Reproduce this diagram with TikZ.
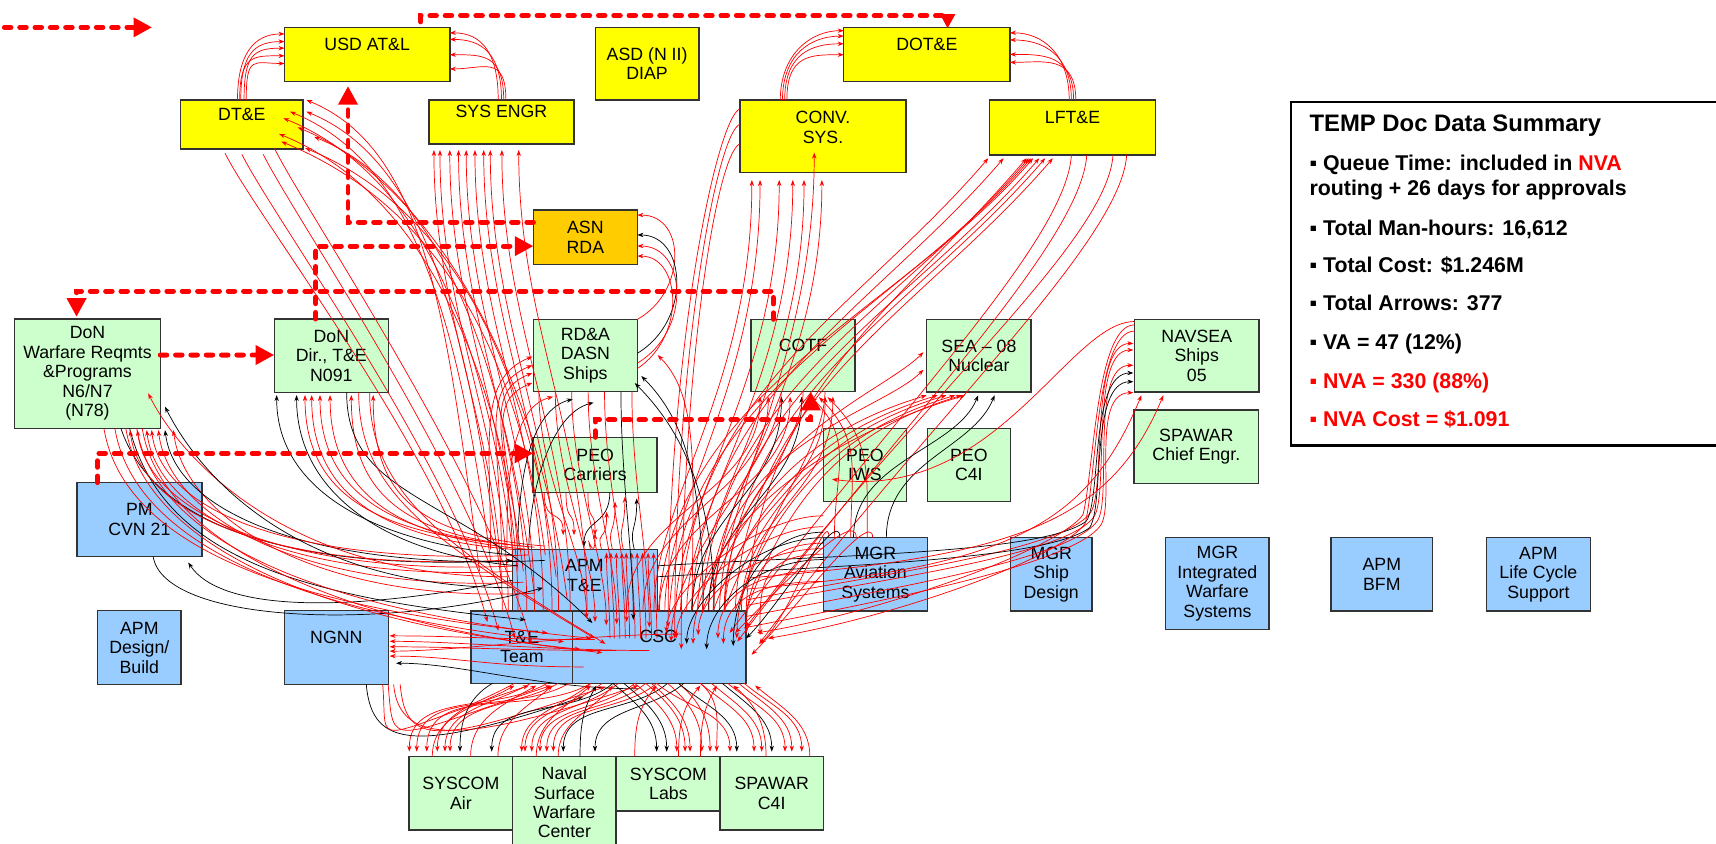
\documentclass[tikz,border=0pt]{standalone}
\usepackage{fontspec}
\setmainfont{Liberation Sans}
\usetikzlibrary{arrows.meta,calc}
\definecolor{yel}{HTML}{FFFF00}
\definecolor{org}{HTML}{FFCC00}
\definecolor{grn}{HTML}{CCFFCC}
\definecolor{blu}{HTML}{99CCFF}
\tikzset{
 box/.style={draw=black!80, line width=1.3pt, inner sep=0pt, outer sep=0pt, align=center, font=\fontsize{16.2}{17.8}\selectfont},
 lbl/.style={inner sep=0pt, align=center, font=\fontsize{16.2}{18.2}\selectfont},
 ra/.style={draw=red, line width=0.65pt, -{Stealth[length=5.5pt,width=4pt]}},
 ba/.style={draw=black, line width=0.65pt, -{Stealth[length=5.5pt,width=4pt]}},
 bigdash/.style={draw=red, line width=4.5pt, dash pattern=on 6pt off 8pt, line cap=round},
 bigtip/.style={-{Triangle[length=17pt,width=17pt]}},
 smalltip/.style={-{Triangle[length=13pt,width=13pt]}},
 sumt/.style={inner sep=0pt, anchor=base west, font=\bfseries\fontsize{19.5}{22}\selectfont},
}
\newcommand\mkbox[7]{\node[box,fill=#6,minimum width={(#4)-(#2)},minimum height={(#5)-(#3)}] (#1) at ({((#2)+(#4))/2},{((#3)+(#5))/2}) {#7};}
\begin{document}
\begin{tikzpicture}[x=1pt,y=-1pt]
\useasboundingbox (0,0) rectangle (1568,771);
% ---------- boxes ----------
\mkbox{usd}{260}{25}{411}{74.6}{yel}{}
\mkbox{asd}{544}{25}{638.6}{91.4}{yel}{ASD (N II)\\DIAP}
\mkbox{dote}{771}{25}{922.8}{74.6}{yel}{}
\mkbox{dte}{165}{91.4}{277}{136}{yel}{}
\mkbox{syse}{392}{91.4}{524.5}{131.6}{yel}{}
\mkbox{conv}{676}{91.4}{828}{157.8}{yel}{}
\mkbox{lfte}{904}{91.4}{1056}{141.6}{yel}{}
\mkbox{asn}{487.4}{191.9}{582.4}{241.9}{org}{ASN\\RDA}
\mkbox{dwr}{13.5}{291.5}{146.4}{391.4}{grn}{DoN\\Warfare Reqmts\\\&Programs\\N6/N7\\(N78)}
\mkbox{ddir}{250.6}{291.5}{354.9}{358.5}{grn}{DoN\\Dir., T\&E\\N091}
\mkbox{rda}{487.4}{291.8}{582.4}{357.9}{grn}{RD\&A\\DASN\\Ships}
\mkbox{cotf}{686.3}{291.8}{781.3}{357.9}{grn}{}
\mkbox{sea}{846.8}{291.8}{942.2}{358.2}{grn}{SEA – 08\\Nuclear}
\mkbox{navsea}{1036.6}{291.8}{1150.5}{358.2}{grn}{NAVSEA\\Ships\\05}
\mkbox{peoc}{487.2}{399.6}{600.5}{449.9}{grn}{PEO\\Carriers}
\mkbox{peoiws}{752.4}{391.4}{828.2}{458.4}{grn}{PEO\\IWS}
\mkbox{peocfi}{847.4}{391.4}{923.2}{458.4}{grn}{PEO\\C4I}
\mkbox{spce}{1036.3}{374.7}{1150}{441.7}{grn}{SPAWAR\\Chief Engr.}
\mkbox{pmcvn}{70.2}{441}{184.5}{508.7}{blu}{PM\\CVN 21}
\mkbox{apmdb}{89.2}{558}{165.4}{625.4}{blu}{APM\\Design/\\Build}
\mkbox{ngnn}{259.7}{558}{354.9}{625.4}{blu}{}
\mkbox{apmte}{468.2}{502}{601}{558.3}{blu}{}
\mkbox{teteam}{430.4}{558.3}{523.3}{624.4}{blu}{T\&E\\Team}
\mkbox{csc}{523.3}{558.3}{681.7}{624.4}{blu}{}
\mkbox{mgrav}{752.4}{491.3}{847.4}{558.4}{blu}{MGR\\Aviation\\Systems}
\mkbox{mgrsd}{923.2}{491.3}{997.9}{558.4}{blu}{MGR\\Ship\\Design}
\mkbox{mgriws}{1065.2}{491.3}{1159.6}{575.1}{blu}{MGR\\Integrated\\Warfare\\Systems}
\mkbox{apmbfm}{1216.3}{491.3}{1309}{558.4}{blu}{APM\\BFM}
\mkbox{apmlcs}{1358.2}{491.3}{1453.2}{558.4}{blu}{APM\\Life Cycle\\Support}
\mkbox{sysair}{373.7}{691.4}{468.5}{758.5}{grn}{SYSCOM\\Air}
\mkbox{nswc}{468.5}{691.4}{562.9}{775}{grn}{Naval\\Surface\\Warfare\\Center}
\mkbox{syslabs}{563.5}{691.4}{658}{741}{grn}{SYSCOM\\Labs}
\mkbox{spcfi}{658}{691.4}{752.3}{758.5}{grn}{SPAWAR\\C4I}
% top-aligned labels
\node[lbl] (usdl) at (335.5,40.5) {USD AT\&L};
\node[lbl] (dtel) at (221,104.5) {DT\&E};
\node[lbl] (sysel) at (458.2,102) {SYS ENGR};
\node[lbl] (dotel) at (846.9,40.5) {DOT\&E};
\node[lbl] (convl) at (752,116.3) {CONV.\\SYS.};
\node[lbl] (lftel) at (980,107.4) {LFT\&E};
\node[lbl] (cotfl) at (733.8,315.3) {COTF};
\node[lbl] (ngnnl) at (307.3,582.5) {NGNN};
\node[lbl] (apmtel) at (534,526.2) {APM\\T\&E};
\node[lbl] (cscl) at (601.5,581.3) {CSC};
% ---------- thin arrows ----------
% DT&E -> USD
\foreach \ax/\ay in {-4/6,-1/13,2/19,-2/26,4/33}
 \draw[ra] ($(dte.north)+(\ax,0)$) .. controls +(0,-42) and +(-28,0) .. ($(usd.north west)+(0,\ay)$);
% SYS ENGR -> USD
\foreach \ax/\ay in {-3/5,0/11,2/25,4/38}
 \draw[ra] ($(syse.north)+(\ax,0)$) .. controls +(0,-42) and +(30,0) .. ($(usd.north east)+(0,\ay)$);
% CONV -> DOT&E
\foreach \ax/\ay in {-39/3,-37/8,-35/15,-33/25}
 \draw[ra] ($(conv.north)+(\ax,0)$) .. controls +(0,-42) and +(-30,0) .. ($(dote.north west)+(0,\ay)$);
% LFT&E -> DOT&E
\foreach \ax/\ay in {-3/5,-1/11.5,1/24.7,3/32}
 \draw[ra] ($(lfte.north)+(\ax,0)$) .. controls +(0,-42) and +(30,0) .. ($(dote.north east)+(0,\ay)$);
% into DT&E right
\foreach \ax/\ay/\bx/\by in {-30/20/3/0, -20/10/-12/10.6, -10/30/3/10.6, 0/0/-18/16.6, 10/20/-22/31, 20/40/10/33.6, 30/5/-20/38, 40/25/2/44, 50/45/-5/25}
 \draw[ra] ($(apmte.north west)+(\ax,\ay)$) .. controls +(-30,-230) and +(110,45) .. ($(dte.north east)+(\bx,\by)$);
% DT&E bottom -> T&E team
\foreach \ax/\ay/\bx/\by in {-15.4/4/15/10, 0/5/25/18, 19.5/5/40/25, 30/0/55/30}
 \draw[ra] ($(dte.south)+(\ax,\ay)$) .. controls +(30,60) and +(-40,-150) .. ($(teteam.north west)+(\bx,\by)$);
% into SYS ENGR bottom
\foreach \bx in {4.5,10,19,27,34,42,50,56,66.6,82}
 \draw[ra] ($(teteam.north west)+(\bx+24,0)$) .. controls +(0,-160) and +(0,160) .. ($(syse.south west)+(\bx,5.5)$);
% into CONV bottom
\foreach \ax/\bx/\by in {-5/11/6.7, 5/18.5/6.7, 15/36/6.7, 25/48.4/6.7, 35/58.7/6.7, 45/75/6.7, 55/68/-18.3}
 \draw[ra] ($(csc.north)+(\ax,0)$) .. controls +(0,-100) and +(0,190) .. ($(conv.south west)+(\bx,\by)$);
\foreach \ay/\bx/\by in {8/8/15, 22/14/25, 40/20/35}
 \draw[ra] ($(conv.north west)+(0,\ay)$) .. controls +(-22,10) and +(0,-250) .. ($(csc.north)+(\bx,\by)$);
% into LFT&E bottom
\foreach \ax/\bx in {-60/-1,-50/13,-40/36,-30/45.6,-20/51,-10/58,0/34,-70/38,-80/40}
 \draw[ra] ($(csc.north east)+(\ax,0)$) .. controls +(10,-200) and +(-120,140) .. ($(lfte.south west)+(\bx,3)$);
\foreach \ax/\bx/\by in {75/-15/20, 89/-8/28, 113/0/15, 125.5/12/30}
 \draw[ra] ($(lfte.south west)+(\ax,0)$) .. controls +(-5,80) and +(150,-200) .. ($(csc.north east)+(\bx,\by)$);
% ASN RDA right
\draw[ra] (rda.north east) .. controls +(45,-25) and +(45,0) .. ($(asn.north east)+(0,4.6)$);
\draw[ba] ($(rda.north east)+(0,31)$) .. controls +(50,-30) and +(45,0) .. ($(asn.north east)+(0,22.8)$);
\draw[ra] ($(rda.north east)+(0,40)$) .. controls +(50,-30) and +(45,0) .. ($(asn.north east)+(0,32.9)$);
\draw[ra] ($(rda.north east)+(0,45)$) .. controls +(45,-30) and +(40,0) .. ($(asn.north east)+(0,42.1)$);
% RD&A left / below / right
\foreach \ax/\ay/\by in {-20/0/34, -10/5/42, 0/10/49, 5/20/58}
 \draw[ra] ($(apmte.north west)+(\ax,\ay)$) .. controls +(0,-100) and +(-50,20) .. ($(rda.north west)+(-1,\by)$);
\draw[ra] ($(apmte.north west)+(-5,0)$) .. controls +(0,-60) and +(-40,10) .. ($(rda.south west)+(18,4.6)$);
\draw[ba] ($(apmte.north west)+(5,0)$) .. controls +(0,-60) and +(-40,10) .. ($(rda.south west)+(36,6.8)$);
\draw[ba] ($(apmte.north west)+(15,0)$) .. controls +(0,-50) and +(-40,10) .. ($(rda.south west)+(55,10)$);
\draw[ra] ($(csc.north)+(30,0)$) .. controls +(0,-120) and +(40,40) .. ($(rda.north east)+(18.6,32.7)$);
\draw[ba] ($(csc.north)+(40,0)$) .. controls +(0,-120) and +(40,40) .. ($(rda.north east)+(3.6,51.8)$);
\draw[ba] ($(csc.north)+(50,0)$) .. controls +(0,-110) and +(40,40) .. ($(rda.north east)+(-2.4,58.2)$);
% COTF bottom
\foreach \ax/\bx/\cl in {-30/8.2/ra, -15/15.7/ra, 30/27.7/ba, 0/35.7/ra, 45/46.2/ba, 60/67.7/ra, 75/74.7/ra}
 \draw[\cl] ($(csc.north)+(\ax,0)$) .. controls +(0,-90) and +(0,90) .. ($(cotf.south west)+(\bx,4.6)$);
\foreach \ax/\bx in {10/55, 25/62, 40/70}
 \draw[ra] ($(mgrav.north west)+(\ax,0)$) .. controls +(0,-60) and +(40,40) .. ($(cotf.south west)+(\bx,5)$);
% SEA-08
\foreach \ax/\bx in {-40/0,-30/10,-20/18,-10/26,0/32,-50/35}
 \draw[ra] ($(csc.north east)+(\ax,0)$) .. controls +(40,-110) and +(-100,30) .. ($(sea.south west)+(\bx,3)$);
\draw[ba] ($(mgrav.north)+(-20,0)$) .. controls +(0,-70) and +(-20,50) .. ($(sea.south west)+(47,3)$);
\draw[ba] ($(mgrav.north)+(10,0)$) .. controls +(0,-70) and +(-20,50) .. ($(sea.south west)+(62,3)$);
\draw[ra] ($(csc.north east)+(-30,0)$) .. controls +(0,-150) and +(-40,40) .. ($(sea.north west)+(-3,46)$);
\draw[ra] ($(csc.north east)+(-20,0)$) .. controls +(0,-150) and +(-40,40) .. ($(sea.north west)+(-3,30)$);
% NAVSEA: out to the right, up along x ~ 1000, into the left side
\foreach \ay/\by/\mx/\my in {-10/22/-40/110, -5/28/-37/114, 5/42/-34/118, 15/67/-31/122}
 \draw[ra] ($(csc.north east)+(0,\ay)$) .. controls +(130,-25) and +(-25,35) .. ($(navsea.south west)+(\mx,\my)$) .. controls +(14,-20) and +(-40,0) .. ($(navsea.north west)+(-1,\by)$);
\foreach \ay/\by/\mx/\my in {15/49/-44/118, 25/57/-41/124}
 \draw[ba] ($(apmte.north east)+(0,\ay)$) .. controls +(160,-10) and +(-40,30) .. ($(navsea.south west)+(\mx,\my)$) .. controls +(14,-20) and +(-40,0) .. ($(navsea.north west)+(-1,\by)$);
\foreach \ay/\bx/\by/\mx/\my in {5/10/20/-47/112, 10.7/20/25/-45/120}
 \draw[ra] ($(navsea.north west)+(0,\ay)$) .. controls +(-35,0) and +(10,-40) .. ($(navsea.south west)+(\mx,\my)$) .. controls +(-20,30) and +(120,-20) .. ($(csc.north east)+(\bx,\by)$);
\foreach \ay/\bx in {-20/6.4, -30/26.4}
 \draw[ra] ($(csc.north east)+(0,\ay)$) .. controls +(240,-20) and +(-50,120) .. ($(navsea.south west)+(\bx,3)$);
\draw[ra] ($(navsea.north west)+(0,2)$) .. controls +(-60,0) and +(150,20) .. ($(peoiws.center)+(-30,13)$);
% NGNN right
\foreach \ax/\ay/\bx/\by/\cl in {20/-40/1.1/23/ra, 40/-30/1.1/33/ra, 10/-15/1.1/41.5/ra, 60/5/7/48/ba, 70/-30/1.1/28/ra, 100/-45/1.1/37/ra}
 \draw[\cl] ($(teteam.south east)+(\ax,\ay)$) .. controls +(-90,0) and +(60,0) .. ($(ngnn.north east)+(\bx,\by)$);
% NGNN bottom loops
\foreach \ax/\bx/\by/\cl in {75/9.7/12.2/ba, 90/-40/2/ra, 95/-20/2/ra, 106/30/3/ra, 100/60/2/ra}
 \draw[\cl] ($(ngnn.south west)+(\ax,0)$) .. controls +(5,60) and +(-150,50) .. ($(csc.south west)+(\bx,\by)$);
% PM CVN 21 and black long arcs
\draw[ba] (apmte.west) .. controls +(-150,30) and +(30,45) .. ($(pmcvn.south east)+(-12.5,5.3)$);
\draw[ba] ($(pmcvn.south)+(12.6,0)$) .. controls +(10,60) and +(-150,40) .. ($(apmte.west)+(28,7)$);
\draw[ba] ($(dwr.south west)+(97,0)$) .. controls +(30,90) and +(-200,10) .. ($(apmte.west)+(0,-18)$);
\draw[ba] ($(dwr.south west)+(105,0)$) .. controls +(30,120) and +(-200,-20) .. ($(teteam.north west)+(50,8)$);
% DoN Warfare bottom
\foreach \ax/\ay/\bx/\cl in {-10/10/105.3/ra, 0/20/120.5/ra, 10/30/131.2/ra, 20/40/144.9/ra, 30/10/137.3/ba, 5/15/112/ra, 15/5/125/ra}
 \draw[\cl] ($(apmte.north west)+(\ax,\ay)$) .. controls +(-200,10) and +(10,80) .. ($(dwr.south west)+(\bx,1.6)$);
\draw[ra] ($(apmte.north west)+(-5,25)$) .. controls +(-200,0) and +(30,60) .. ($(dwr.south east)+(-11,-32)$);
\draw[ba] ($(apmte.north west)+(0,35)$) .. controls +(-200,0) and +(30,60) .. ($(dwr.south east)+(4.4,-19.8)$);
\foreach \ax/\bx/\by in {15/70/20, 25/85/28, 35/100/35, 45/110/25, 50/120/38}
 \draw[ra] ($(dwr.south)+(\ax,0)$) .. controls +(20,120) and +(-200,-20) .. ($(teteam.north west)+(\bx,\by)$);
% DoN Dir bottom
\foreach \ax/\ay/\bx/\cl in {0/5/2.2/ba, 5/15/20.4/ba, -5/-5/28.1/ra, 0/0/34.2/ra, 10/-3/41.8/ra, 15/0/51/ra, 20/-2/70.4/ra, 30/-3/90.4/ra}
 \draw[\cl] ($(apmte.north west)+(\ax,\ay)$) .. controls +(-120,-10) and +(0,90) .. ($(ddir.south west)+(\bx,2.5)$);
\draw[ba] ($(ddir.south)+(14,0)$) .. controls +(0,100) and +(-120,-120) .. ($(teteam.north east)+(18,11)$);
\foreach \ax/\bx/\by in {25/20/25, 35/30/30}
 \draw[ra] ($(ddir.south)+(\ax,0)$) .. controls +(0,90) and +(-150,-90) .. ($(csc.north west)+(\bx,\by)$);
% PEO Carriers
\foreach \ax/\bx/\by/\cl in {5/56.5/37.5/ra, 15/67.1/17.7/ra, 25/74.8/8.5/ra, 35/83.8/4/ra, 45/94.6/5.5/ba}
 \draw[\cl] ($(apmte.north)+(\ax,0)$) .. controls +(-5,-20) and +(0,30) .. ($(peoc.south west)+(\bx,\by)$);
\foreach \ax/\bx/\by/\cl in {10/46.4/-13/ra, 30/56.3/-13/ra, 50/75.5/-13/ra, 70/65.4/-2.4/ba}
 \draw[\cl] ($(peoc.south west)+(\ax,0)$) .. controls +(0,30) and +(0,-25) .. ($(apmte.north west)+(\bx,\by)$);
% dense bundle into APM T&E top
\foreach \bx in {86,90,95,100,104,109,114,119,124,129}
 \draw[ra] ($(csc.north west)+(\bx-52,25)$) .. controls +(0,-30) and +(0,25) .. ($(apmte.north west)+(\bx,3)$);
% RD&A bottom -> CSC top
\foreach \ax/\bx/\by/\cl in {5/12.7/7/ra, 20/20.4/10/ra, 35/30.7/13/ra, 50/40.2/12/ra, 65/49.3/10/ra, 80/55.4/8/ba, 90/70/15/ra}
 \draw[\cl] ($(rda.south west)+(\ax,0)$) .. controls +(0,80) and +(0,-60) .. ($(csc.north west)+(\bx,\by)$);
% CSC top from the right
\foreach \ay/\bx/\by/\cl in {0/85.7/20/ra, 10/94.7/25/ra, 20/104.2/30/ba, 30/114.7/22/ra, 40/122.4/35/ba, 50/132.7/25/ra, 60/137.7/30/ra, 15/146.7/32/ba, 25/158.7/20/ra, 35/171.2/22/ra}
 \draw[\cl] ($(mgrav.north west)+(0,\ay-20)$) .. controls +(-60,0) and +(0,-40) .. ($(csc.north west)+(\bx,\by)$);
\foreach \ax/\bx/\by in {-20/90/28, 0/110/30, 20/150/25}
 \draw[ra] ($(cotf.south)+(\ax,0)$) .. controls +(0,60) and +(0,-80) .. ($(csc.north west)+(\bx,\by)$);
\foreach \ax/\bx/\by/\cl in {5/13/30/ra, 15/0/25/ba, 30/-10/20/ra, 45/5/40/ra}
 \draw[\cl] ($(mgrav.north west)+(\ax,0)$) .. controls +(0,-30) and +(30,-30) .. ($(csc.north east)+(\bx,\by)$);
% arches CSC -> SYSCOM boxes
\foreach \ax/\bx/\ang/\cl in {-23.3/0.3/-150/ra, -3.3/7.1/-150/ra, 16.7/16.3/-150/ra, -53.3/25.9/-150/ra, -38.3/32.9/-150/ra, -13.3/37.5/-150/ra, -73.3/46.6/-150/ba,
  36.7/75.6/-140/ba, 16.7/103/-140/ra, 26.7/106/-140/ra, 41.7/112.2/-140/ra, 56.7/119.7/-140/ra, 66.7/125.9/-140/ra, 76.7/131.9/-140/ra, 86.7/141/-140/ba, 101.7/170/-140/ba,
  36.7/226.3/-40/ba, 46.7/235.5/-40/ba, 56.7/244.7/-40/ra, 66.7/252.3/-40/ra, 71.7/256.8/-40/ra, 86.7/267.5/-40/ra, 96.7/275.1/-40/ra, 116.7/281.2/-40/ra,
  76.7/293.3/-40/ra, 96.7/299.5/-40/ba, 116.7/315.3/-40/ra, 126.7/322.3/-40/ra, 136.7/331.5/-40/ba, 141.7/343.6/-40/ra, 151.7/349.8/-40/ra, 156.7/358.9/-40/ra}
 \draw[\cl] ($(csc.south west)+(\ax,0)$) to[out=\ang,in=90] ($(sysair.north west)+(\bx,-4.6)$);
% arches SYSCOM -> CSC / T&E bottom
\foreach \ax/\bx/\ang/\cl in {21.3/-53.3/-150/ra, 56.3/-33.3/-150/ra, 81.3/-18.3/-140/ra, 116.3/16.7/-140/ra, 136.3/36.7/-130/ra, 156.3/21.7/-120/ba, 206.3/76.7/-130/ra, 246.3/116.7/-130/ra, 266.3/131.7/-120/ra, 326.3/146.7/-40/ra, 366.3/166.7/-40/ra}
 \draw[\cl] ($(sysair.north west)+(\ax,0)$) to[out=90,in=\ang] ($(csc.south west)+(\bx,2)$);
% ---------- summary ----------
\node[draw=black, line width=2pt, minimum width=420pt, minimum height=314pt, anchor=north west, inner sep=0pt] (summary) at (1178.8,92) {};
\node[inner sep=0pt, anchor=base west, font=\bfseries\fontsize{21.8}{24}\selectfont] (sumtitle) at (1196.4,120) {TEMP Doc Data Summary};
\node[sumt] (sq1) at (1196.4,156) {▪ Queue Time: included in \textcolor{red}{NVA}};
\node[sumt] (sq2) at (1196.4,179) {routing + 26 days for approvals};
\node[sumt] (smh) at (1196.4,214.8) {▪ Total Man-hours: 16,612};
\node[sumt] (stc) at (1196.4,249.2) {▪ Total Cost: \$1.246M};
\node[sumt] (sta) at (1196.4,283.9) {▪ Total Arrows: 377};
\node[sumt] (sva) at (1196.4,319.8) {▪ VA = 47 (12\%)};
\node[sumt, text=red] (snva) at (1196.4,354.9) {▪ NVA = 330 (88\%)};
\node[sumt, text=red] (snvc) at (1196.4,389.9) {▪ NVA Cost = \$1.091};
% ---------- thick dashed arrows ----------
\coordinate (lgA) at (4,25);
\coordinate (lgB) at (139,25);
\draw[bigdash,bigtip] (lgA) -- (lgB);
\coordinate (dtA) at ($(usd.north east)+(-26.5,-5)$);
\draw[bigdash,smalltip] (dtA) -- ++(0,-5.7) -| ($(dote.north)+(19,1)$);
\draw[bigdash,bigtip] ($(asn.west)+(0,-14)$) -| ($(usd.south)+(-17.5,4)$);
\draw[bigdash,bigtip] ($(ddir.north)+(-14.2,0)$) |- ($(asn.west)+(0,8)$);
\draw[bigdash,bigtip] ($(cotf.north)+(-27.1,0)$) -- ++(0,-25.8) -| ($(dwr.north)+(-10,-2)$);
\draw[bigdash,bigtip] ($(dwr.east)+(0,-17)$) -- ($(ddir.west)+(0,-0.6)$);
\draw[bigdash,bigtip] ($(pmcvn.north)+(-38.2,0)$) |- ($(peoc.west)+(0,-10.5)$);
\draw[bigdash,bigtip] (peoc.north) -- ++(0,-16) -| ($(cotf.south)+(7.1,0)$);
\end{tikzpicture}
\end{document}
